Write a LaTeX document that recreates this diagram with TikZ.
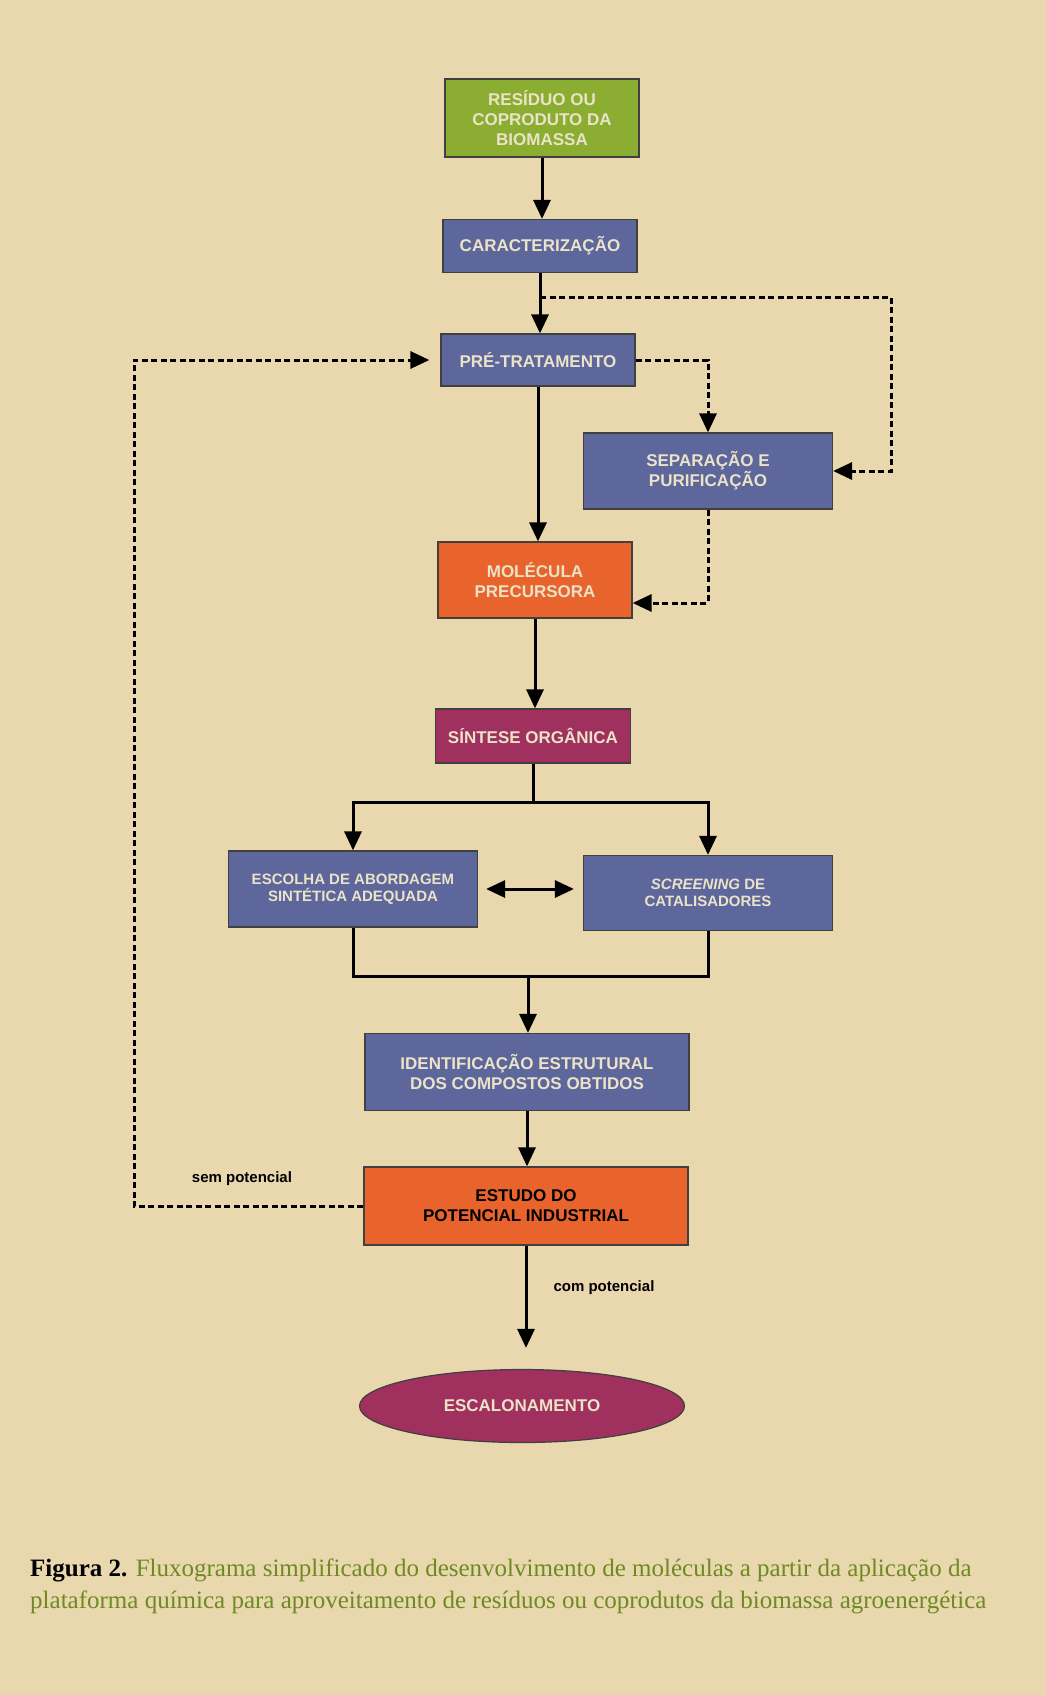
\documentclass[tikz,border=0pt]{standalone}
\usepackage{fontspec}
\setmainfont{Liberation Serif}
\setsansfont{Liberation Sans}
\usetikzlibrary{arrows.meta,shapes.geometric}
\definecolor{papel}{HTML}{E9D7AE}
\definecolor{creme}{HTML}{EBE3C8}
\definecolor{verde}{HTML}{8BAE32}
\definecolor{azul}{HTML}{5E679C}
\definecolor{laranja}{HTML}{E8642C}
\definecolor{roxo}{HTML}{A0305E}
\definecolor{oliva}{HTML}{6E8A22}

\begin{document}
\begin{tikzpicture}[x=1pt,y=-1pt,
    caixa/.style={draw=black!75,line width=1.2pt,minimum width=194pt,minimum height=53pt,
      inner sep=2pt,align=center,text=creme,font=\sffamily\bfseries\fontsize{17}{20}\selectfont},
    menor/.style={font=\sffamily\bfseries\fontsize{15}{17}\selectfont},
    linha/.style={line width=3pt},
    ponta/.style={-{Triangle[length=19pt,width=17pt]}},
    seta/.style={linha,ponta},
    tracejada/.style={seta,dash pattern=on 6pt off 3.5pt},
    rotulo/.style={font=\sffamily\bfseries\fontsize{15}{17}\selectfont}]
    \fill[papel] (0,0) rectangle (1046,1695);
    \useasboundingbox (0,0) rectangle (1046,1695);

    \node[caixa,fill=verde,minimum height=78pt] (res) at (542,118) {RESÍDUO OU\\COPRODUTO DA\\BIOMASSA};
    \node[caixa,fill=azul] (car) at (540,246) {CARACTERIZAÇÃO};
    \node[caixa,fill=azul,minimum height=52pt] (pre) at (538,360) {PRÉ-TRATAMENTO};
    \node[caixa,fill=azul,minimum width=249pt,minimum height=76pt] (sep) at (708,471) {SEPARAÇÃO E\\PURIFICAÇÃO};
    \node[caixa,fill=laranja,minimum height=76pt] (mol) at (535,580) {MOLÉCULA\\PRECURSORA};
    \node[caixa,fill=roxo,minimum width=195pt,minimum height=54pt] (sin) at (533,736) {SÍNTESE ORGÂNICA};
    \node[caixa,menor,fill=azul,minimum width=249pt,minimum height=76pt] (esc) at (353,889) {ESCOLHA DE ABORDAGEM\\SINTÉTICA ADEQUADA};
    \node[caixa,menor,fill=azul,minimum width=249pt,minimum height=75pt] (scr) at (708,893) {\textit{SCREENING} DE\\CATALISADORES};
    \node[caixa,fill=azul,minimum width=324pt,minimum height=77pt] (ide) at (527,1072) {IDENTIFICAÇÃO ESTRUTURAL\\DOS COMPOSTOS OBTIDOS};
    \node[caixa,fill=laranja,text=black,minimum width=324pt,minimum height=78pt] (est) at (526,1206) {ESTUDO DO\\POTENCIAL INDUSTRIAL};
    \node[caixa,ellipse,fill=roxo,minimum width=325pt,minimum height=73pt,inner sep=0pt] (sca) at (522,1406) {ESCALONAMENTO};

    \coordinate (ram) at (540,297);
    \coordinate (dir) at (891,297);
    \coordinate (gar) at (533,802);
    \coordinate (jun) at (528,976);
    \coordinate (esq) at (134,1206);

    \draw[seta] (res.south) -- (res.south |- car.north);
    \draw[seta] (car.south) -- (car.south |- pre.north);
    \draw[tracejada] (ram) -- (dir) |- (sep.east);
    \draw[tracejada] (pre.east) -| (sep.north);
    \draw[tracejada] (sep.south) |- ([yshift=-23pt]mol.east);
    \draw[seta] (pre.south) -- (pre.south |- mol.north);
    \draw[seta] (mol.south) -- (mol.south |- sin.north);
    \draw[linha] (sin.south) -- (gar);
    \draw[seta] (gar) -| (esc.north);
    \draw[seta] (gar) -| (scr.north);
    \draw[linha,{Triangle[length=19pt,width=17pt]}-{Triangle[length=19pt,width=17pt]},shorten <=8pt,shorten >=9pt] (esc.east) -- (esc.east -| scr.west);
    \draw[linha] (esc.south) |- (jun) -| (scr.south);
    \draw[seta] (jun) -- (jun |- ide.north);
    \draw[seta] (ide.south) -- (ide.south |- est.north);
    \draw[seta,shorten >=21pt] (est.south) -- (est.south |- sca.north);
    \draw[tracejada,shorten >=11pt] (est.west) -- (esq) |- (pre.west);

    \node[rotulo] (com) at (604,1288) {com potencial};
    \node[rotulo] (sem) at (242,1179) {sem potencial};

    \node[anchor=north west,align=left,text=oliva,inner sep=0pt,
      font=\fontsize{25}{32}\selectfont] (leg) at (30,1559)
      {\textcolor{black}{\textbf{Figura 2.}} Fluxograma simplificado do desenvolvimento de moléculas a partir da aplicação da\\
       plataforma química para aproveitamento de resíduos ou coprodutos da biomassa agroenergética};
\end{tikzpicture}
\end{document}
